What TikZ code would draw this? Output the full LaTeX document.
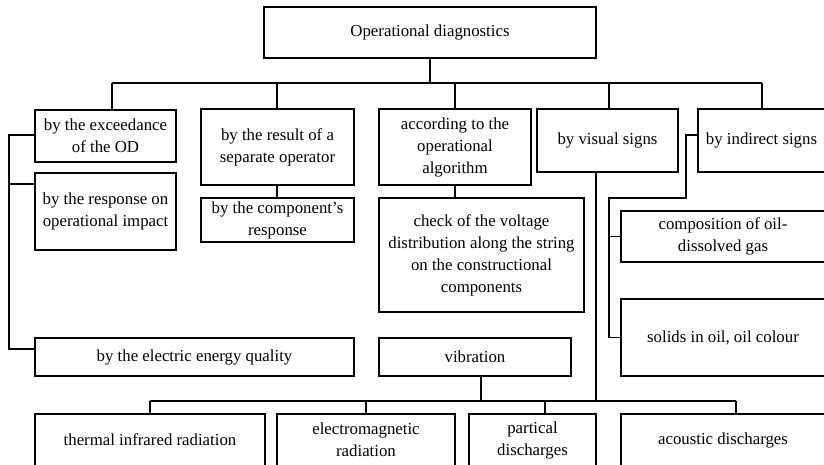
\documentclass[tikz,border=0pt]{standalone}
\usepackage{fontspec}
\setmainfont{Liberation Serif}
\begin{document}
\begin{tikzpicture}[x=1pt,y=-1pt,
  bx/.style={draw, line width=1.1pt, inner sep=0pt, align=center, font=\fontsize{16.8}{22}\selectfont},
  ln/.style={line width=1.1pt}]
\useasboundingbox (0,0) rectangle (824,464);
\clip (0,0) rectangle (824,464);
% nodes
\node[bx, minimum width=332, minimum height=51] (top) at (430,32.5) {Operational diagnostics};
\node[bx, minimum width=141, minimum height=52] (b1) at (105.5,136) {by the exceedance\\of the OD};
\node[bx, minimum width=141, minimum height=77] (b2) at (105.5,211.5) {by the response on\\operational impact};
\node[bx, minimum width=319, minimum height=38] (b3) at (194.5,357) {by the electric energy quality};
\node[bx, minimum width=153, minimum height=76] (r1) at (277.5,147) {by the result of a\\separate operator};
\node[bx, minimum width=153, minimum height=44] (r2) at (277.5,220) {by the component's\\response};
\node[bx, minimum width=152, minimum height=76] (a1) at (455,147) {according to the\\operational\\algorithm};
\node[bx, minimum width=205, minimum height=114] (a2) at (481.5,255) {check of the voltage\\distribution along the string\\on the constructional\\components};
\node[bx, minimum width=192, minimum height=38] (vib) at (475,357) {vibration};
\node[bx, minimum width=141, minimum height=63] (vis) at (607.5,140.5) {by visual signs};
\node[bx, minimum width=127, minimum height=63] (ind) at (761.5,140.5) {by indirect signs};
\node[bx, minimum width=204, minimum height=51] (co) at (723,236.5) {composition of oil-\\dissolved gas};
\node[bx, minimum width=204, minimum height=77] (so) at (723,337.5) {solids in oil, oil colour};
\node[bx, minimum width=230, minimum height=52] (th) at (150,440) {thermal infrared radiation};
\node[bx, minimum width=178, minimum height=52] (em) at (366,440) {electromagnetic\\radiation};
\node[bx, minimum width=127, minimum height=52] (pa) at (532.5,440) {partical\\discharges};
\node[bx, minimum width=204, minimum height=52] (ac) at (723,440) {acoustic discharges};
% top bus
\coordinate (busL) at (112,83);
\coordinate (busR) at (762,83);
\coordinate (visTop) at (609,83);
\coordinate (rTop) at (277,83);
\draw[ln] (top.south) -- (top.south |- busL);
\draw[ln] (busL) -- (busR);
\draw[ln] (busL) -- (busL |- b1.north);
\draw[ln] (rTop) -- (rTop |- r1.north);
\draw[ln] (a1.north) -- (a1.north |- busL);
\draw[ln] (visTop) -- (visTop |- vis.north);
\draw[ln] (busR) -- (busR |- ind.north);
% sub links
\draw[ln] (rTop |- r1.south) -- (rTop |- r2.north);
\draw[ln] (a1.south) -- (a1.south |- a2.north);
% left bracket
\coordinate (lb1) at (9,135);
\coordinate (lb2) at (9,184);
\coordinate (lb3) at (9,349);
\draw[ln] (lb1 -| b1.west) -- (lb1) -- (lb3) -- (lb3 -| b3.west);
\draw[ln] (lb2) -- (lb2 -| b2.west);
% bottom bus
\coordinate (vs) at (596,172);
\coordinate (bbL) at (150,401);
\coordinate (bbR) at (736,401);
\coordinate (pd) at (545,401);
\coordinate (vb) at (481,401);
\draw[ln] (vs |- vis.south) -- (vs |- bbL);
\draw[ln] (bbL) -- (bbR);
\draw[ln] (bbL) -- (bbL |- th.north);
\draw[ln] (em.north) -- (em.north |- bbL);
\draw[ln] (pd) -- (pd |- pa.north);
\draw[ln] (bbR) -- (bbR |- ac.north);
\draw[ln] (vb |- vib.south) -- (vb);
% indirect signs branch
\coordinate (i1) at (686,135);
\coordinate (i2) at (609,198);
\draw[ln] (i1 -| ind.west) -- (i1) |- (i2) -- (i2 |- so.west) -- (so.west);
\draw[ln] (i2 |- co.west) -- (co.west);
\end{tikzpicture}
\end{document}
